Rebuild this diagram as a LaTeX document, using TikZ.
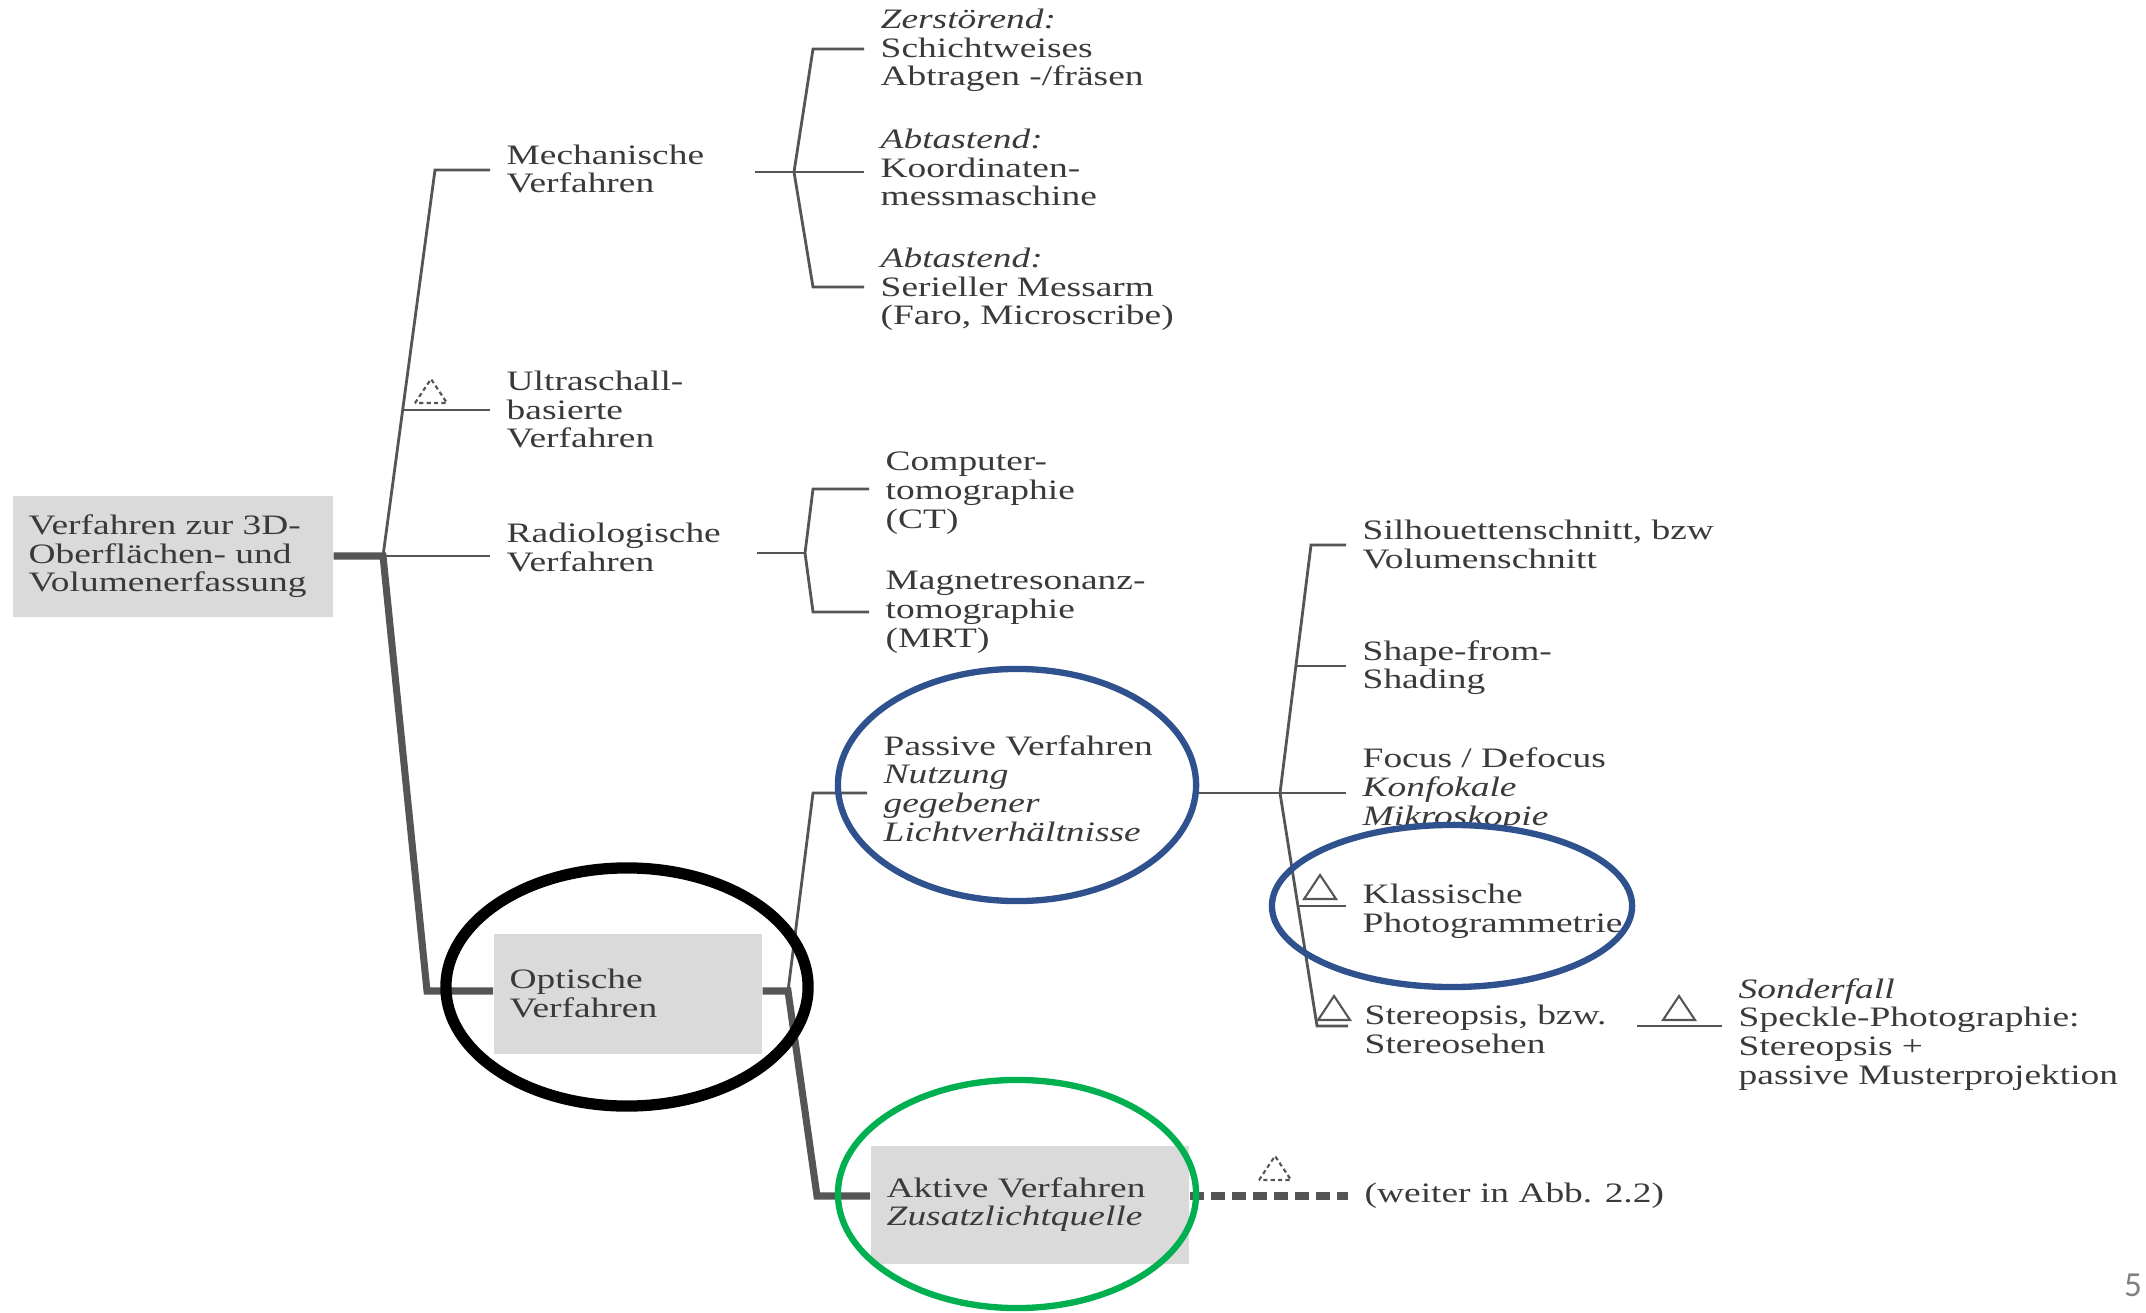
\documentclass[tikz,border=0pt]{standalone}
\usepackage{fontspec}
\setmainfont{Liberation Serif}[FakeStretch=1.33]
\newfontfamily\slidefont{Carlito}
\usepackage{tikz}
\usetikzlibrary{calc}
\definecolor{inkgray}{HTML}{3A3A3A}
\definecolor{linegray}{HTML}{555555}
\definecolor{boxgray}{HTML}{DADADA}
\definecolor{ringblue}{HTML}{2F528F}
\definecolor{ringgreen}{HTML}{00B050}

\begin{document}
\begin{tikzpicture}[x=0.01cm,y=-0.01cm,
  txt/.style={anchor=base west,align=left,inner xsep=0.16cm,inner ysep=0pt,text=inkgray,font=\fontsize{8}{8.15}\selectfont},
  greybox/.style={anchor=north west,align=left,fill=boxgray,inner xsep=0.16cm,inner ysep=0pt,text=inkgray,font=\fontsize{8}{8.15}\selectfont},
  thinline/.style={linegray,line width=0.8pt},
  thickline/.style={linegray,line width=2pt},
  dotline/.style={linegray,line width=2pt,dash pattern=on 4pt off 2pt},
  marker/.style={linegray,line width=0.6pt,line join=miter}]
\useasboundingbox (0,0) rectangle (2146,1313);

% boxes
\node[greybox,text width=2.88cm,minimum height=1.21cm] (root) at (12,495) {Verfahren zur 3D-\\Oberflächen- und\\Volumenerfassung};
\node[greybox,text width=2.36cm,minimum height=1.2cm] (opt) at (493,933) {Optische\\Verfahren};
\node[greybox,text width=2.86cm,minimum height=1.18cm] (akt) at (870,1145) {Aktive Verfahren\\\textit{Zusatzlichtquelle}};

% first level (placed at baseline of last line)
\node[txt] (mech) at (490,193) {Mechanische\\Verfahren};
\node[txt] (ultra) at (490,448) {Ultraschall-\\basierte\\Verfahren};
\node[txt] (radio) at (490,571) {Radiologische\\Verfahren};

% mechanical
\node[txt] (zer) at (864,86) {\textit{Zerstörend:}\\Schichtweises\\Abtragen -/fräsen};
\node[txt] (koord) at (864,206) {\textit{Abtastend:}\\Koordinaten-\\messmaschine};
\node[txt] (arm) at (864,325) {\textit{Abtastend:}\\Serieller Messarm\\(Faro, Microscribe)};

% radiological
\node[txt] (ct) at (869,528) {Computer-\\tomographie\\(CT)};
\node[txt] (mrt) at (869,647) {Magnetresonanz-\\tomographie\\(MRT)};

% optical
\node[txt] (passiv) at (867,841) {Passive Verfahren\\\textit{Nutzung}\\\textit{gegebener}\\\textit{Lichtverhältnisse}};
\node[txt] (silh) at (1346,568) {Silhouettenschnitt, bzw\\Volumenschnitt};
\node[txt] (shape) at (1346,689) {Shape-from-\\Shading};
\node[txt] (focus) at (1346,825) {Focus / Defocus\\\textit{Konfokale}\\\textit{Mikroskopie}};
\node[txt] (klass) at (1346,932) {Klassische\\Photogrammetrie};
\node[txt] (stereo) at (1348,1053) {Stereopsis, bzw.\\Stereosehen};
\node[txt] (sonder) at (1722,1084) {\textit{Sonderfall}\\Speckle-Photographie:\\Stereopsis +\\passive Musterprojektion};
\node[txt] (weiter) at (1348,1202) {(weiter in Abb. 2.2)};

% junctions
\coordinate (j0) at (383,556);
\coordinate (tM) at (435,170);
\coordinate (tU) at ($(j0)!0.378!(tM)$);
\coordinate (jO) at (427,991);
\coordinate (mA) at (813,49);
\coordinate (mB) at (794,172);
\coordinate (mC) at (813,287);
\coordinate (rA) at (813,489);
\coordinate (rB) at (805,553);
\coordinate (rC) at (813,612);
\coordinate (oB) at (788,991);
\coordinate (oA) at (813,793);
\coordinate (oC) at (817,1196);
\coordinate (pA) at (1311,545);
\coordinate (pB) at (1280,793);
\coordinate (pC) at (1317,1026);
\coordinate (pS) at ($(pB)!0.512!(pA)$);
\coordinate (pK) at ($(pB)!0.485!(pC)$);
\coordinate (sL) at (1637,1026);

% tree
\draw[thinline] (tM -| mech.west) -- (tM) -- (j0);
\draw[thinline] (tU) -- (tU -| ultra.west);
\draw[thinline] (j0) -- (j0 -| radio.west);
\draw[thickline] (root.east |- j0) -- (j0) -- (jO) -- (jO -| opt.west);

\draw[thinline] (mB) ++(-39,0) -- (mB -| koord.west);
\draw[thinline] (mA -| zer.west) -- (mA) -- (mB) -- (mC) -- (mC -| arm.west);

\draw[thinline] (rB) ++(-48,0) -- (rB);
\draw[thinline] (rA -| ct.west) -- (rA) -- (rB) -- (rC) -- (rC -| mrt.west);

\draw[thickline] (opt.east |- oB) -- (oB) -- (oC) -- (oC -| akt.west);
\draw[thinline] (oB) -- (oA) -- (oA -| passiv.west);

\draw[thinline] (pB) ++(-87,0) -- (pB -| focus.west);
\draw[thinline] (pA -| silh.west) -- (pA) -- (pB) -- (pC) -- (pC -| stereo.west);
\draw[thinline] (pS) -- (pS -| shape.west);
\draw[thinline] (pK) -- (pK -| klass.west);
\draw[thinline] (sL) -- (sL -| sonder.west);

\draw[dotline] (akt.east |- oC) -- (oC -| weiter.west);

% triangles
\foreach \tx/\ty in {1304/899,1318/1020,1663/1020}
  \draw[marker] (\tx,\ty) -- ++(16,-24) -- ++(16,24) -- cycle;
\foreach \tx/\ty in {415/403,1259/1180}
  \draw[marker,dash pattern=on 1.2pt off 0.9pt] (\tx,\ty) -- ++(16,-24) -- ++(16,24) -- cycle;

% highlight rings
\draw[ringblue,line width=1.8pt] (1017,785) ellipse [x radius=1.79cm,y radius=1.16cm];
\draw[ringblue,line width=1.8pt] (1452,906) ellipse [x radius=1.8cm,y radius=0.81cm];
\draw[black,line width=3.2pt] (627,987) ellipse [x radius=1.81cm,y radius=1.19cm];
\draw[ringgreen,line width=1.8pt] (1017,1194) ellipse [x radius=1.79cm,y radius=1.14cm];

\node[text=gray,font=\slidefont\fontsize{10}{12}\selectfont,inner sep=0pt] (pagenum) at (2133,1285) {5};
\end{tikzpicture}
\end{document}
